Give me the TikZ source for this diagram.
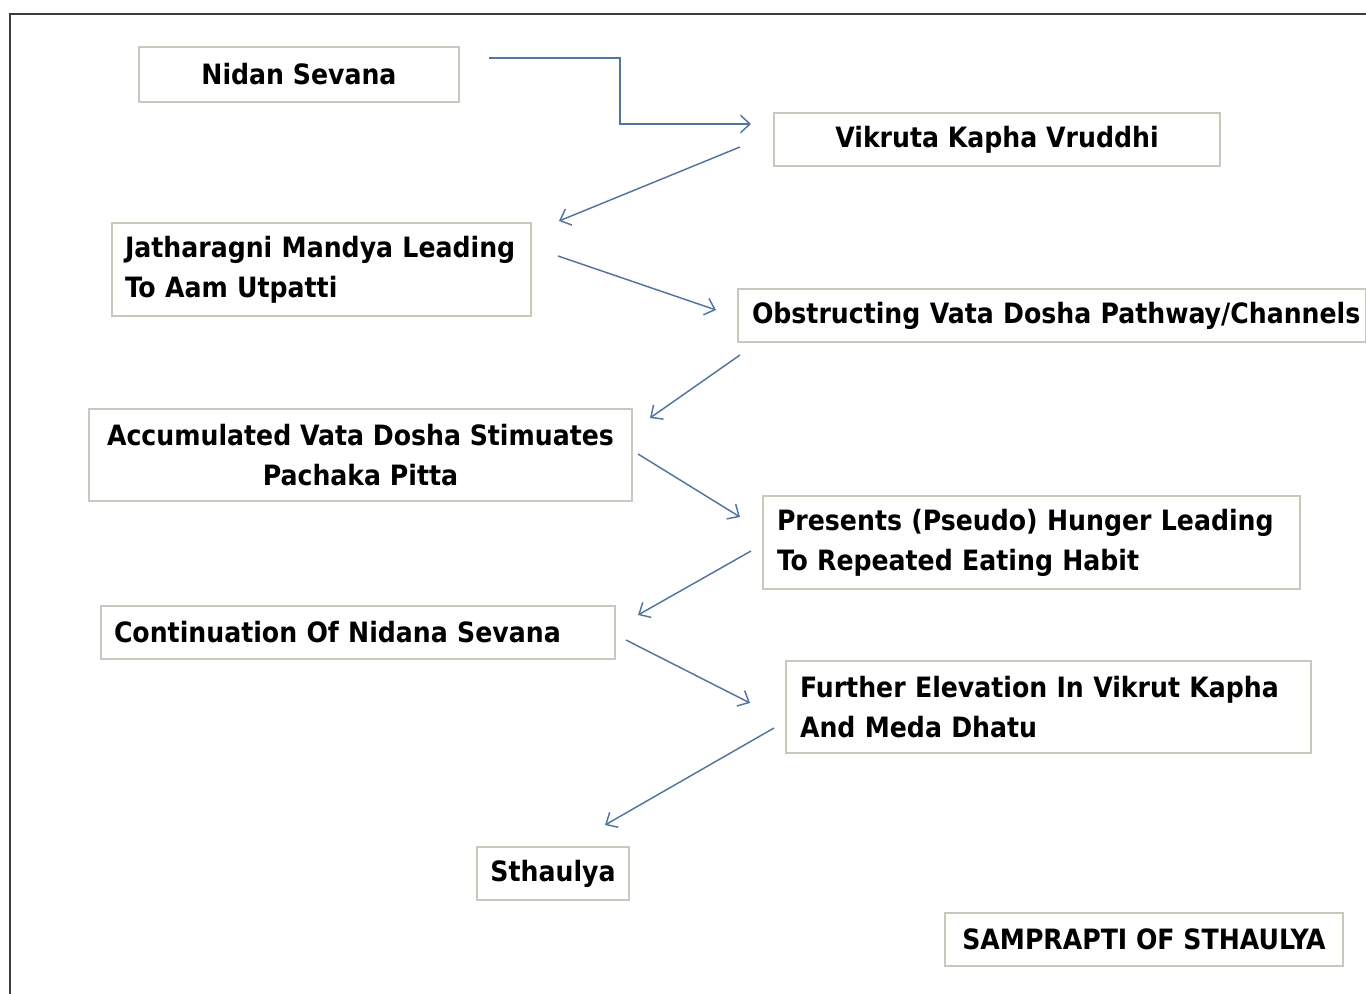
\documentclass[tikz,border=0pt]{standalone}
\usepackage{fontspec}
\setmainfont{DejaVu Sans Condensed}
\usetikzlibrary{arrows.meta}
\definecolor{boxline}{RGB}{200,200,188}
\definecolor{arrowc}{RGB}{84,116,160}
\definecolor{framec}{RGB}{60,60,60}
\tikzset{
  box/.style={draw=boxline, line width=1.2pt, fill=white, rectangle, inner ysep=0pt,
    font=\fontsize{21pt}{30pt}\selectfont\bfseries, text=black},
  cbox/.style={box, align=center},
  lbox/.style={box, align=left},
  flow/.style={draw=arrowc, line width=1.1pt, -{Straight Barb[length=7pt,width=13pt,line width=1.1pt]}},
}
\begin{document}
\begin{tikzpicture}[x=0.75pt,y=-0.75pt]
\useasboundingbox (0,0) rectangle (1366,994);
\draw[framec, line width=1.5pt] (10,994) -- (10,14) -- (1366,14);

\node[cbox, minimum width=240pt, minimum height=41.25pt] (n1) at (299,74.5) {Nidan Sevana};
\node[cbox, minimum width=334.5pt, minimum height=39.75pt] (n2) at (997,139.5) {Vikruta Kapha Vruddhi};
\node[lbox, inner xsep=9.75pt, text width=294.75pt, minimum height=69.75pt] (n3) at (321.5,269.5) {Jatharagni Mandya Leading\\To Aam Utpatti};
\node[lbox, inner xsep=10.5pt, text width=450pt, minimum height=39.75pt] (n4) at (1052,315.5) {\mbox{Obstructing Vata Dosha Pathway/Channels}};
\node[cbox, minimum width=407.25pt, minimum height=69pt] (n5) at (360.5,455) {Accumulated Vata Dosha Stimuates\\Pachaka Pitta};
\node[lbox, inner xsep=10.5pt, text width=381.75pt, minimum height=69.75pt] (n6) at (1031.5,542.5) {Presents (Pseudo) Hunger Leading\\To Repeated Eating Habit};
\node[lbox, inner xsep=9.75pt, text width=366pt, minimum height=39.75pt] (n7) at (358,632.5) {Continuation Of Nidana Sevana};
\node[lbox, inner xsep=10.5pt, text width=372.75pt, minimum height=69pt] (n8) at (1048.5,707) {Further Elevation In Vikrut Kapha\\And Meda Dhatu};
\node[cbox, minimum width=114pt, minimum height=39.75pt] (n9) at (553,873.5) {Sthaulya};
\node[cbox, minimum width=298.5pt, minimum height=39.75pt] (title) at (1144,939.5) {SAMPRAPTI OF STHAULYA};

\coordinate (a1s) at (489,58);
\coordinate (a1e) at (751,124);
\coordinate (a2s) at (740,147);
\coordinate (a2e) at (559,221);
\coordinate (a3s) at (558,256);
\coordinate (a3e) at (716,310);
\coordinate (a4s) at (740,355);
\coordinate (a4e) at (650,418);
\coordinate (a5s) at (638,454);
\coordinate (a5e) at (740,517);
\coordinate (a6s) at (751,551);
\coordinate (a6e) at (638,615);
\coordinate (a7s) at (626,640);
\coordinate (a7e) at (750,703);
\coordinate (a8s) at (774,728);
\coordinate (a8e) at (605,825);

\draw[flow] (a1s) -| (620,91) |- (a1e);
\draw[flow] (a2s) -- (a2e);
\draw[flow] (a3s) -- (a3e);
\draw[flow] (a4s) -- (a4e);
\draw[flow] (a5s) -- (a5e);
\draw[flow] (a6s) -- (a6e);
\draw[flow] (a7s) -- (a7e);
\draw[flow] (a8s) -- (a8e);
\end{tikzpicture}
\end{document}
